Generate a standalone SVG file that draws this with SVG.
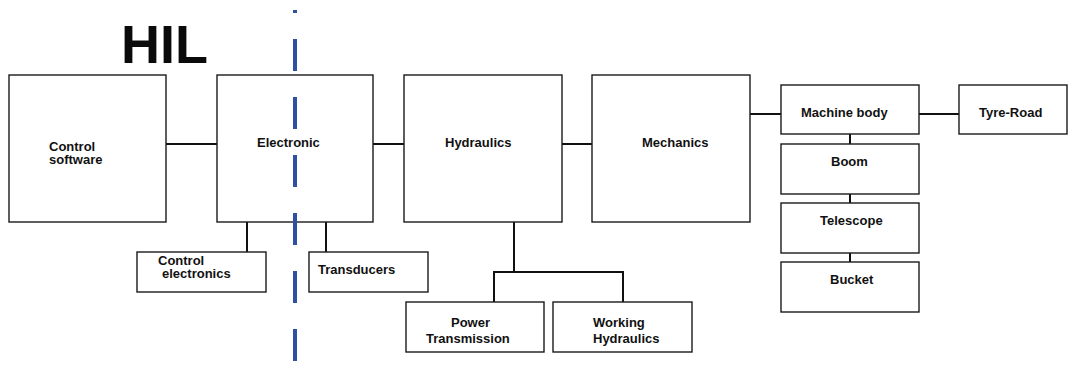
<svg xmlns="http://www.w3.org/2000/svg" width="1072" height="372" viewBox="0 0 1072 372">
  <style>
    .box { fill: #ffffff; stroke: #1a1a1a; stroke-width: 1.4; }
    .lbl { font-family: "Liberation Sans", Arial, sans-serif; font-weight: bold; font-size: 13px; fill: #111111; }
    .wire { fill: none; stroke: #111111; stroke-width: 2; }
    .title { font-family: "Liberation Sans", Arial, sans-serif; font-weight: bold; font-size: 54px; fill: #0a0a0a; }
    .cut { stroke: #2f4fa3; stroke-width: 4; stroke-dasharray: 32 26; stroke-dashoffset: 29; fill: none; }
  </style>
  <rect width="1072" height="372" fill="#ffffff"/>

  <text class="title" x="121" y="63">HIL</text>

  <g id="connectors">
    <line class="wire" x1="166" y1="144" x2="217" y2="144"/>
    <line class="wire" x1="373" y1="144" x2="404" y2="144"/>
    <line class="wire" x1="562" y1="144" x2="592" y2="144"/>
    <line class="wire" x1="750" y1="114" x2="781" y2="114"/>
    <line class="wire" x1="919" y1="114" x2="959" y2="114"/>
    <line class="wire" x1="850" y1="134" x2="850" y2="144"/>
    <line class="wire" x1="850" y1="194" x2="850" y2="203"/>
    <line class="wire" x1="850" y1="253" x2="850" y2="262"/>
    <line class="wire" x1="247" y1="222" x2="247" y2="252"/>
    <line class="wire" x1="326" y1="222" x2="326" y2="252"/>
    <path class="wire" d="M514 222 V272 M494 302 V272 H623 V302"/>
  </g>

  <g id="control-software">
    <rect class="box" x="9" y="75" width="157" height="147"/>
    <text class="lbl" x="49" y="151">Control</text>
    <text class="lbl" x="49" y="164">software</text>
  </g>
  <g id="electronic">
    <rect class="box" x="217" y="75" width="156" height="147"/>
    <text class="lbl" x="257" y="147">Electronic</text>
  </g>
  <g id="hydraulics">
    <rect class="box" x="404" y="75" width="158" height="147"/>
    <text class="lbl" x="445" y="147">Hydraulics</text>
  </g>
  <g id="mechanics">
    <rect class="box" x="592" y="75" width="158" height="147"/>
    <text class="lbl" x="642" y="147">Mechanics</text>
  </g>
  <g id="machine-body">
    <rect class="box" x="781" y="85" width="138" height="49"/>
    <text class="lbl" x="801" y="117">Machine body</text>
  </g>
  <g id="tyre-road">
    <rect class="box" x="959" y="85" width="108" height="49"/>
    <text class="lbl" x="979" y="117">Tyre-Road</text>
  </g>
  <g id="boom">
    <rect class="box" x="781" y="144" width="138" height="50"/>
    <text class="lbl" x="831" y="166">Boom</text>
  </g>
  <g id="telescope">
    <rect class="box" x="781" y="203" width="138" height="50"/>
    <text class="lbl" x="820" y="225">Telescope</text>
  </g>
  <g id="bucket">
    <rect class="box" x="781" y="262" width="138" height="50"/>
    <text class="lbl" x="830" y="284">Bucket</text>
  </g>
  <g id="control-electronics">
    <rect class="box" x="137" y="252" width="129" height="40"/>
    <text class="lbl" x="158" y="265">Control</text>
    <text class="lbl" x="162" y="278">electronics</text>
  </g>
  <g id="transducers">
    <rect class="box" x="309" y="252" width="119" height="40"/>
    <text class="lbl" x="318" y="274">Transducers</text>
  </g>
  <g id="power-transmission">
    <rect class="box" x="406" y="302" width="138" height="50"/>
    <text class="lbl" x="451" y="327">Power</text>
    <text class="lbl" x="426" y="343">Transmission</text>
  </g>
  <g id="working-hydraulics">
    <rect class="box" x="553" y="302" width="139" height="50"/>
    <text class="lbl" x="593" y="327">Working</text>
    <text class="lbl" x="593" y="343">Hydraulics</text>
  </g>

  <!-- HIL boundary -->
  <line class="cut" x1="295" y1="10" x2="295" y2="361"/>
</svg>
